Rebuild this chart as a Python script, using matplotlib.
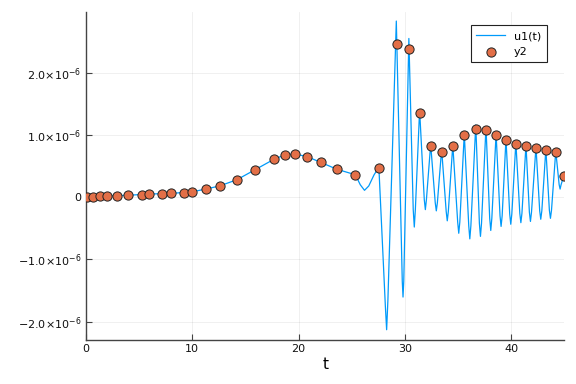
import numpy as np
import matplotlib
matplotlib.use("Agg")
import matplotlib.pyplot as plt

# solver output (y2 markers), values in units of 1e-6
t_pts = [0.12, 0.69, 1.3, 1.95, 2.9, 3.95, 5.24, 5.96, 7.2, 7.97, 9.22, 9.97,
         11.26, 12.57, 14.2, 15.9, 17.7, 18.72, 19.66, 20.82, 22.08, 23.58,
         25.34, 27.53, 29.29, 30.42, 31.42, 32.43, 33.49, 34.52, 35.59, 36.66,
         37.63, 38.57, 39.51, 40.45, 41.39, 42.33, 43.25, 44.18, 44.94]
y_pts = [0.01, 0.01, 0.015, 0.02, 0.025, 0.03, 0.04, 0.05, 0.05, 0.06, 0.07, 0.085,
         0.13, 0.18, 0.28, 0.44, 0.61, 0.68, 0.695, 0.65, 0.56, 0.45,
         0.36, 0.475, 2.465, 2.375, 1.35, 0.83, 0.72, 0.82, 0.995, 1.10,
         1.075, 0.995, 0.915, 0.86, 0.82, 0.79, 0.755, 0.72, 0.335]

# dense solution u1(t), values in units of 1e-6
t_line = [0.0, 0.7, 1.95, 3.95, 5.96, 7.97, 9.97, 11.26, 12.57, 14.2, 15.9,
          17.7, 18.72, 19.66, 20.82, 22.08, 23.58, 25.34, 25.8, 26.2, 26.6,
          27.1, 27.55,
          28.16, 28.28, 28.40, 29.19,
          29.75, 29.82, 29.89, 30.37,
          30.78, 30.88, 30.98, 31.38,
          31.82, 31.92, 32.02, 32.42,
          32.85, 32.95, 33.05, 33.45,
          33.88, 33.98, 34.08, 34.5,
          34.96, 35.06, 35.16, 35.58,
          36.0, 36.1, 36.2, 36.66,
          37.0, 37.1, 37.2, 37.62,
          37.97, 38.07, 38.17, 38.57,
          38.94, 39.04, 39.14, 39.5,
          39.85, 39.95, 40.05, 40.43,
          40.8, 40.9, 41.0, 41.38,
          41.7, 41.8, 41.9, 42.32,
          42.67, 42.77, 42.87, 43.25,
          43.58, 43.68, 43.78, 44.18,
          44.5, 44.59, 44.68, 45.0]
u_line = [0.0, 0.01, 0.02, 0.03, 0.05, 0.06, 0.085, 0.13, 0.18, 0.28, 0.44,
          0.61, 0.68, 0.695, 0.65, 0.56, 0.45, 0.36, 0.2, 0.11, 0.18,
          0.36, 0.48,
          -1.75, -2.13, -1.65, 2.83,
          -1.35, -1.605, -1.35, 2.55,
          -0.2, -0.48, -0.2, 1.40,
          -0.04, -0.20, -0.04, 0.85,
          -0.09, -0.22, -0.09, 0.77,
          -0.23, -0.38, -0.23, 0.84,
          -0.40, -0.58, -0.40, 1.02,
          -0.46, -0.67, -0.46, 1.16,
          -0.42, -0.63, -0.42, 1.13,
          -0.34, -0.535, -0.34, 1.02,
          -0.30, -0.47, -0.30, 0.94,
          -0.27, -0.435, -0.27, 0.88,
          -0.26, -0.41, -0.26, 0.84,
          -0.24, -0.39, -0.24, 0.81,
          -0.22, -0.355, -0.22, 0.775,
          -0.21, -0.34, -0.21, 0.74,
          0.2, 0.13, 0.2, 0.38]

yticks = [-2e-6, -1e-6, 0, 1e-6, 2e-6]
ylabels = [r"$-2.0{\times}10^{-6}$", r"$-1.0{\times}10^{-6}$", "0",
           r"$1.0{\times}10^{-6}$", r"$2.0{\times}10^{-6}$"]

plt.rcParams["mathtext.fontset"] = "dejavusans"

fig = plt.figure(figsize=(5.76, 3.84), dpi=100)
ax = fig.add_axes([0.149, 0.1154, 0.831, 0.8541])

ax.plot(t_line, np.array(u_line) * 1e-6, color="#009AFA", lw=0.9, label="u1(t)", zorder=2)
ax.scatter(t_pts, np.array(y_pts) * 1e-6, s=44, color="#E36F47", edgecolors="#222222",
           linewidths=0.7, label="y2", zorder=3)

ax.set_xlim(0, 45)
ax.set_ylim(-2.29e-6, 2.98e-6)
ax.set_xticks([0, 10, 20, 30, 40])
ax.set_yticks(yticks)
ax.set_yticklabels(ylabels)
ax.grid(True, color="black", alpha=0.07, lw=0.6)
ax.set_axisbelow(True)
for s in ["top", "right"]:
    ax.spines[s].set_visible(False)
for s in ["left", "bottom"]:
    ax.spines[s].set_color("#444444")
    ax.spines[s].set_linewidth(1.0)
ax.tick_params(direction="in", length=4, width=0.8, color="#444444",
               labelsize=8, pad=3, labelcolor="#111111")
ax.set_xlabel("t", fontsize=11, labelpad=2)

leg = ax.legend(loc="upper right", fontsize=8, fancybox=False, framealpha=1,
                edgecolor="#222222", borderpad=0.5, handlelength=2.6,
                bbox_to_anchor=(0.975, 0.975))
leg.get_frame().set_linewidth(0.8)

fig.savefig("out.png", dpi=100)
